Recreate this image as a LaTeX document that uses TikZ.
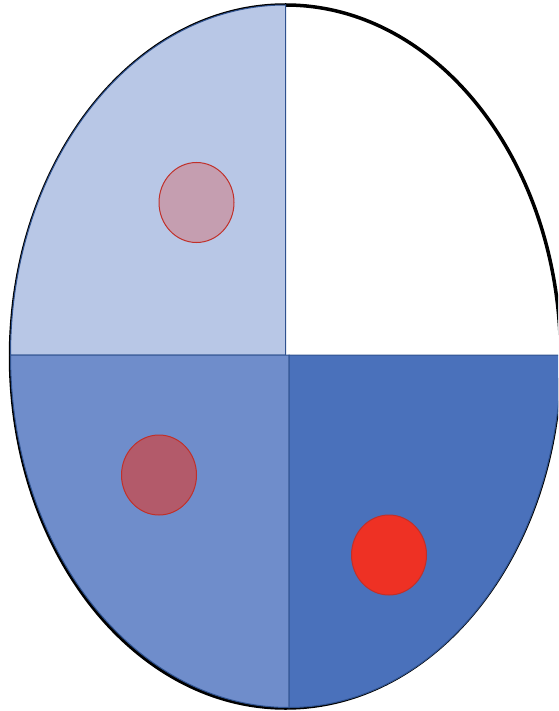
\documentclass[tikz,border=0pt]{standalone}
\usetikzlibrary{calc}
\definecolor{qone}{HTML}{B8C7E6}
\definecolor{qtwo}{HTML}{6F8DCB}
\definecolor{qthree}{HTML}{4A71BB}
\definecolor{qline}{HTML}{2F528F}
\definecolor{cred}{HTML}{C0302A}
\definecolor{cone}{HTML}{C59EB0}
\definecolor{ctwo}{HTML}{B35A6A}
\definecolor{cthree}{HTML}{EE3124}
\tikzset{
  quad/.style={draw=qline, line width=1pt},
  dot/.style={draw=cred, line width=1pt},
}
\begin{document}
\begin{tikzpicture}[x=1pt,y=-1pt]
\useasboundingbox (0,0) rectangle (558,711);
\clip (0,0) rectangle (558,711);
% outer ellipse outline
\draw[black, line width=3.5pt] (285.5,356.5) ellipse [x radius=275, y radius=351.5];
% top-left quarter
\draw[quad, fill=qone] (285.5,355) -- (10.5,355) arc [start angle=180, end angle=270, x radius=275, y radius=350] -- cycle;
% bottom-left quarter
\draw[quad, fill=qtwo] (289,355) -- (10.5,355) arc [start angle=180, end angle=90, x radius=278.5, y radius=352.5] -- cycle;
% bottom-right quarter
\draw[quad, fill=qthree] (289,355) -- (561,355) arc [start angle=0, end angle=90, x radius=272, y radius=352.5] -- cycle;
% circles
\draw[dot, fill=cone] (196.5,202.5) ellipse [x radius=37.5, y radius=40];
\draw[dot, fill=ctwo] (159,475) ellipse [x radius=37.5, y radius=40];
\draw[dot, fill=cthree] (389,555) ellipse [x radius=37.5, y radius=40];
\end{tikzpicture}
\end{document}
